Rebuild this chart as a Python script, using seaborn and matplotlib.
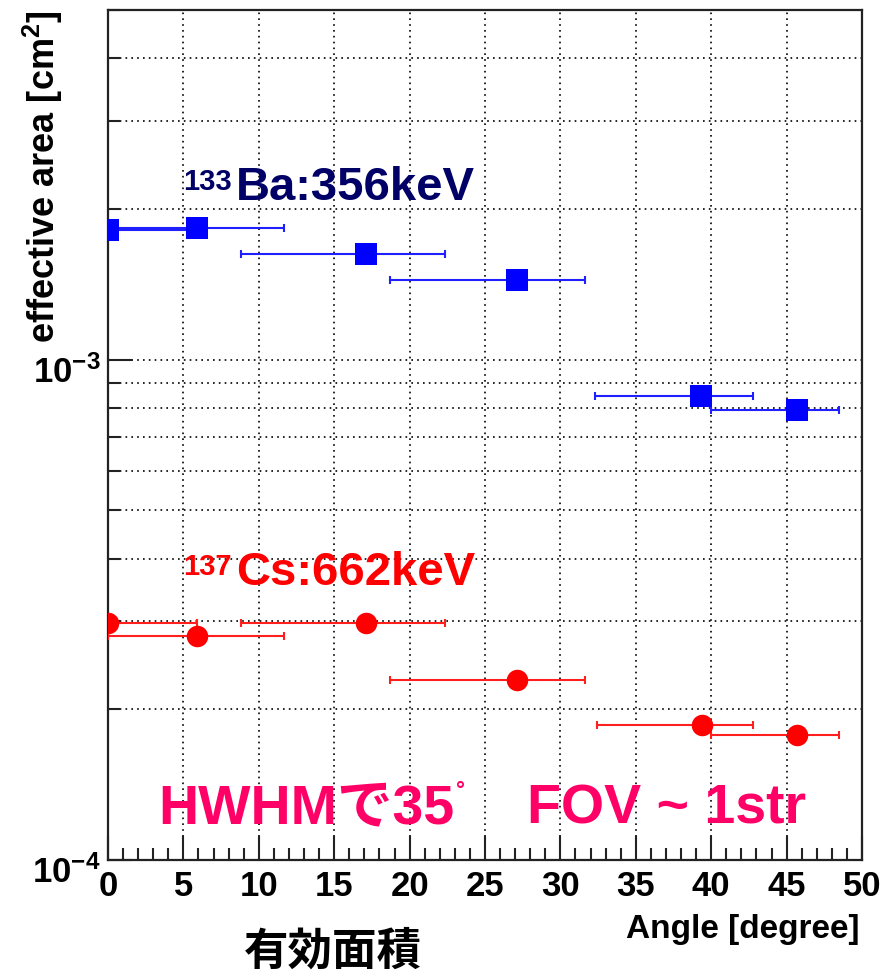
import numpy as np
import matplotlib
matplotlib.use("Agg")
import matplotlib.pyplot as plt
from matplotlib.ticker import LogLocator, MultipleLocator, NullFormatter
from matplotlib.transforms import ScaledTranslation
import seaborn as sns

sns.set_style("ticks")
plt.rcParams['font.family'] = ['Liberation Sans', 'Noto Sans CJK JP', 'DejaVu Sans']
plt.rcParams['font.weight'] = 'bold'
plt.rcParams['mathtext.fontset'] = 'custom'
plt.rcParams['mathtext.rm'] = 'Liberation Sans:bold'
plt.rcParams['mathtext.bf'] = 'Liberation Sans:bold'
plt.rcParams['mathtext.it'] = 'Liberation Sans:bold'
plt.rcParams['mathtext.sf'] = 'Liberation Sans:bold'

# --- データ ---
# 133Ba 356keV
ba_angle = [0.0, 5.9, 17.1, 27.1, 39.3, 45.7]
ba_area = [1.82e-3, 1.83e-3, 1.63e-3, 1.44e-3, 8.45e-4, 7.92e-4]
ba_err_lo = [0.0, 5.9, 8.3, 8.4, 7.0, 5.7]
ba_err_hi = [5.9, 5.8, 5.25, 4.55, 3.45, 2.75]

# 137Cs 662keV
cs_angle = [0.0, 5.9, 17.1, 27.1, 39.4, 45.7]
cs_area = [2.98e-4, 2.80e-4, 2.97e-4, 2.29e-4, 1.86e-4, 1.78e-4]
cs_err_lo = [0.0, 5.9, 8.3, 8.4, 7.0, 5.7]
cs_err_hi = [5.9, 5.8, 5.25, 4.5, 3.35, 2.75]

xticks = list(range(0, 51, 5))
yticks = [1e-4, 1e-3]
ytick_labels = [r'$10^{-4}$', r'$10^{-3}$']

W, H = 893, 976
fig = plt.figure(figsize=(W / 100, H / 100), dpi=100)
ax = fig.add_axes([108 / W, 1 - 860 / H, 754 / W, 850 / H])

# エラーバー
ax.errorbar(ba_angle, ba_area, xerr=[ba_err_lo, ba_err_hi], fmt='none',
            ecolor='#1f1fff', elinewidth=1.5, capsize=3, capthick=1.5, zorder=3)
ax.errorbar(cs_angle, cs_area, xerr=[cs_err_lo, cs_err_hi], fmt='none',
            ecolor='#ff1f1f', elinewidth=1.5, capsize=3, capthick=1.5, zorder=3)

# マーカー
sns.scatterplot(x=ba_angle, y=ba_area, marker='s', s=230, color='#0000ff',
                linewidth=0, ax=ax, zorder=4)
sns.scatterplot(x=cs_angle, y=cs_area, marker='o', s=240, color='#ff0000',
                linewidth=0, ax=ax, zorder=4)

ax.set_yscale('log')
ax.set_xlim(0, 50)
ax.set_ylim(1e-4, 5e-3)

ax.set_xticks(xticks)
ax.set_xticklabels([str(t) for t in xticks])
ax.xaxis.set_minor_locator(MultipleLocator(1))
ax.set_yticks(yticks)
ax.set_yticklabels(ytick_labels)
ax.yaxis.set_minor_locator(LogLocator(base=10, subs=np.arange(2, 10)))
ax.yaxis.set_minor_formatter(NullFormatter())

ax.tick_params(axis='both', which='major', direction='in', length=17, width=1.5,
               labelsize=25, color='#222222', labelcolor='black')
ax.tick_params(axis='both', which='minor', direction='in', length=8.5, width=1.5,
               color='#222222')
ax.tick_params(axis='x', which='major', pad=7)
ax.tick_params(axis='y', which='major', pad=5)

# ROOT風に y 目盛りラベルを少し下げる
shift = ScaledTranslation(0, -0.09, fig.dpi_scale_trans)
for lab in ax.get_yticklabels():
    lab.set_transform(lab.get_transform() + shift)

grid_kw = dict(color='black', linestyle=(0, (1, 2.5)), linewidth=1.2)
ax.grid(axis='x', which='major', **grid_kw)
ax.grid(axis='y', which='both', **grid_kw)
ax.set_axisbelow(True)

for sp in ax.spines.values():
    sp.set_linewidth(1.6)
    sp.set_color('#222222')

# ラベル
fig.text(55 / W, 1 - 10 / H, r'effective area [cm$^{2}$]', rotation=90,
         rotation_mode='anchor', ha='right', va='baseline', fontsize=26,
         fontweight='bold', color='black')
fig.text(860 / W, 1 - 938 / H, 'Angle [degree]', ha='right', va='baseline',
         fontsize=24, fontweight='bold', color='black')
fig.text(333 / W, 1 - 952 / H, '有効面積', ha='center', va='center', fontsize=32,
         fontweight='bold', family=['Noto Sans CJK JP'], color='black')

# 注記
ax.text(0.164, 0.788, '133', transform=ax.transAxes, ha='right', va='baseline',
        fontsize=21, fontweight='bold', color='#000066')
ax.text(0.170, 0.776, 'Ba:356keV', transform=ax.transAxes, ha='left', va='baseline',
        fontsize=34, fontweight='bold', color='#000066')
ax.text(0.164, 0.335, '137', transform=ax.transAxes, ha='right', va='baseline',
        fontsize=21, fontweight='bold', color='#ff0000')
ax.text(0.170, 0.3235, 'Cs:662keV', transform=ax.transAxes, ha='left', va='baseline',
        fontsize=34, fontweight='bold', color='#ff0000')

pink = '#ff0066'
ax.text(0.0663, 0.0435, 'HWHMで35', transform=ax.transAxes, ha='left', va='baseline',
        fontsize=40, fontweight='bold', color=pink,
        family=['Liberation Sans', 'Noto Sans CJK JP'])
ax.text(0.467, 0.080, '°', transform=ax.transAxes, ha='center', va='center',
        fontsize=16, fontweight='bold', color=pink)
ax.text(0.556, 0.0435, 'FOV ~ 1str', transform=ax.transAxes, ha='left', va='baseline',
        fontsize=40, fontweight='bold', color=pink)

fig.savefig('out.png', dpi=100)
